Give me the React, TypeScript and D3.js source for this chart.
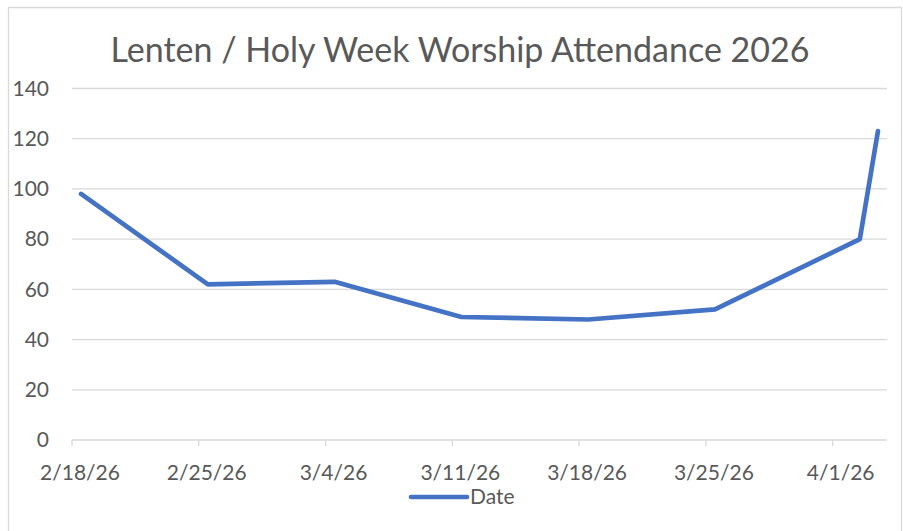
import React from "react";
import * as d3 from "d3";

const title = "Lenten / Holy Week Worship Attendance 2026";
const seriesName = "Date";
const dates = ["2026-02-18", "2026-02-25", "2026-03-04", "2026-03-11", "2026-03-18", "2026-03-25", "2026-04-02", "2026-04-03"];
const attendance = [98, 62, 63, 49, 48, 52, 80, 123];
const tickDates = ["2026-02-18", "2026-02-25", "2026-03-04", "2026-03-11", "2026-03-18", "2026-03-25", "2026-04-01"];
const tickLabels = ["2/18/26", "2/25/26", "3/4/26", "3/11/26", "3/18/26", "3/25/26", "4/1/26"];
const yTicks = [0, 20, 40, 60, 80, 100, 120, 140];
const xDomain = ["2026-02-18", "2026-04-04"];

const W = 903;
const H = 531;
const FONT = "Lato, 'Open Sans', sans-serif";
const TEXT = "#595959";
const GRID = "#d9d9d9";
const LINE = "#4472c4";

export default function App() {
  const parse = (s: string) => new Date(s + "T00:00:00Z");
  const x = d3.scaleUtc().domain(xDomain.map(parse)).range([72, 887]);
  const y = d3.scaleLinear().domain([0, 140]).range([440, 88.5]);
  const half = 12 * 3600 * 1000;
  const pts: [number, number][] = dates.map((d, i) => [x(new Date(parse(d).getTime() + half)), y(attendance[i])]);
  const line = d3.line().curve(d3.curveLinear)(pts) || "";

  return (
    <svg width={W} height={H} style={{ position: "absolute", left: 0, top: 0, background: "#fff" }} fontFamily={FONT}>
      <rect x={0} y={0} width={W} height={H} fill="#fff" />
      <path d={`M8.5,${H + 5} V7.5 H901.5 V${H + 5}`} fill="none" stroke={GRID} strokeWidth={1.3} />
      <text x={460} y={62} textAnchor="middle" fontSize={34} fill={TEXT}>{title}</text>
      {yTicks.map((t) => (
        <g key={t}>
          {t > 0 && <line x1={72} x2={887} y1={y(t)} y2={y(t)} stroke={GRID} strokeWidth={1.3} />}
          <text x={49} y={y(t)} dy="0.35em" textAnchor="end" fontSize={21} fill={TEXT}>{t}</text>
        </g>
      ))}
      <line x1={72} x2={887} y1={y(0)} y2={y(0)} stroke={GRID} strokeWidth={1.3} />
      {tickDates.map((d, i) => {
        const xx = x(parse(d));
        return (
          <g key={d}>
            <line x1={xx} x2={xx} y1={y(0)} y2={y(0) + 6} stroke={GRID} strokeWidth={1.3} />
            <text x={xx + 8} y={479.5} textAnchor="middle" fontSize={21} fill={TEXT}>{tickLabels[i]}</text>
          </g>
        );
      })}
      <path d={line} fill="none" stroke={LINE} strokeWidth={4.7} strokeLinejoin="round" strokeLinecap="round" />
      <line x1={411} x2={467} y1={497} y2={497} stroke={LINE} strokeWidth={4.7} strokeLinecap="round" />
      <text x={470} y={504} fontSize={21} fill={TEXT}>{seriesName}</text>
    </svg>
  );
}
